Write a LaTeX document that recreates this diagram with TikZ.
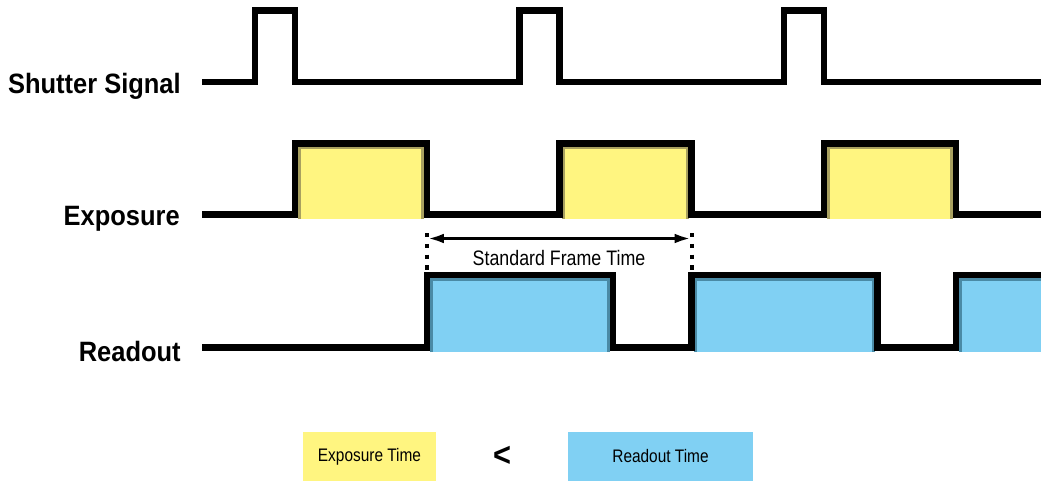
\documentclass[tikz,border=0pt]{standalone}
\usepackage{fontspec}
\setmainfont{Liberation Sans}[FakeStretch=0.85]
\newfontfamily\labelfont{Liberation Sans Bold}[FakeStretch=0.91]
\usetikzlibrary{arrows.meta}
\definecolor{expyellow}{RGB}{255,245,128}
\definecolor{expedge}{RGB}{168,160,96}
\definecolor{readblue}{RGB}{128,208,243}
\definecolor{readedge}{RGB}{74,138,165}
\tikzset{
  signal/.style={line width=0.16cm},
  siglabel/.style={anchor=base east,inner sep=0pt,font=\fontsize{19.9}{20}\labelfont},
  expbox/.style={fill=expyellow,draw=expedge,line width=0.075cm},
  readbox/.style={fill=readblue,draw=readedge,line width=0.075cm},
  legendbox/.style={inner sep=0pt,minimum height=1.225cm,font=\fontsize{12.9}{13}\selectfont},
  framemark/.style={line width=0.1cm,dash pattern=on 0.11cm off 0.16cm}
}
\begin{document}
\begin{tikzpicture}[x=0.025cm,y=-0.025cm]
\useasboundingbox (0,0) rectangle (1041,481);
% filled boxes
\foreach \x in {295,559.5,824}
\filldraw[expbox] ({\x+4.25},219) |- ({\x+132-4.25},147.75) -- ({\x+132-4.25},219);
\foreach \x in {427,691.5,956}
\filldraw[readbox] ({\x+4.25},352) |- ({\x+186-4.25},279.25) -- ({\x+186-4.25},352);
% signals
\draw[signal] (202,82) \foreach \x in {255,519.5,784} {-- (\x,82) -- (\x,10.5) -- ({\x+40},10.5) -- ({\x+40},82)} -- (1041,82);
\draw[signal] (202,214.5) \foreach \x in {295,559.5,824} {-- (\x,214.5) -- (\x,143.5) -- ({\x+132},143.5) -- ({\x+132},214.5)} -- (1041,214.5);
\draw[signal] (202,347.5) \foreach \x in {427,691.5,956} {-- (\x,347.5) -- (\x,275) -- ({\x+186},275) -- ({\x+186},347.5)};
\node[siglabel] (shutterlabel) at (181,93.3) {Shutter Signal};
\node[siglabel] (exposurelabel) at (180,225) {Exposure};
\node[siglabel] (readoutlabel) at (181,361.5) {Readout};
% frame time
\coordinate (framestart) at (427,238.5);
\coordinate (frameend) at (691.5,238.5);
\draw[line width=0.09cm,{Latex[length=0.42cm,width=0.24cm]}-{Latex[length=0.42cm,width=0.24cm]}] (framestart) -- (frameend);
\draw[framemark] (framestart) ++(0,-5.5) -- ++(0,39);
\draw[framemark] (frameend) ++(0,-5.5) -- ++(0,39);
\node[anchor=base,inner sep=0pt,font=\fontsize{14.9}{15}\selectfont] (frametime) at (559,265) {Standard Frame Time};
% legend
\node[legendbox,fill=expyellow,minimum width=3.325cm] (exptime) at (369.5,456.5) {Exposure Time};
\node[inner sep=0pt,font=\fontsize{24}{24}\labelfont] (lessthan) at (502,456) {<};
\node[legendbox,fill=readblue,minimum width=4.625cm] (readtime) at (660.5,456.5) {Readout Time};
\end{tikzpicture}
\end{document}
